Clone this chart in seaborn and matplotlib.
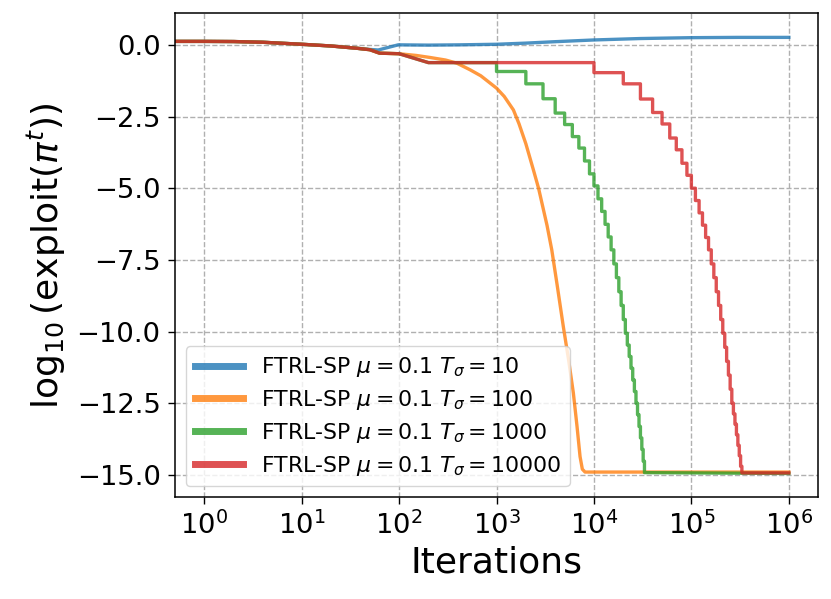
import numpy as np
import pandas as pd
import matplotlib
matplotlib.use("Agg")
import matplotlib.pyplot as plt
import seaborn as sns

# shared start of every run (iterations, log10 exploitability)
common_x = [0, 1, 2, 4, 10, 20, 37, 50, 63, 100]
common_y = [0.12, 0.12, 0.115, 0.09, 0.02, -0.04, -0.12, -0.17, -0.29, -0.31]

# T_sigma = 10
blue_x = [0, 1, 2, 4, 10, 20, 37, 50, 61, 98, 200, 420, 1000, 2000, 4000,
          10000, 30000, 100000, 300000, 1000000]
blue_y = [0.12, 0.12, 0.115, 0.09, 0.02, -0.04, -0.12, -0.16, -0.18, 0.0, -0.01,
          0.0, 0.02, 0.06, 0.11, 0.17, 0.22, 0.25, 0.26, 0.26]

# T_sigma = 100
orange_x = [150, 207, 300, 392, 535, 690, 1000, 1200, 1490, 1700, 2000, 2390,
            2700, 3300, 3690, 4200, 4850, 5500, 6150, 6700, 7200, 7600, 8100,
            10000, 100000, 1000000]
orange_y = [-0.37, -0.44, -0.53, -0.64, -0.87, -1.08, -1.51, -1.8, -2.27, -2.75,
            -3.45, -4.36, -5.0, -6.3, -7.15, -8.4, -9.83, -11.0, -12.15, -13.3,
            -14.36, -14.8, -14.9, -14.9, -14.9, -14.9]

# T_sigma = 1000 / 10000: value after the drop at 200, then plateau per period
plateau_200 = -0.62
green_levels = [-0.93, -1.36, -1.88, -2.38, -2.78, -3.2, -3.6, -4.05, -4.5, -4.92,
                -5.37, -5.81, -6.26, -6.7, -7.15, -7.64, -8.12, -8.61, -9.09, -9.58,
                -10.06, -10.47, -10.87, -11.28, -11.69, -12.09, -12.5, -12.9, -13.31,
                -13.71, -14.11, -14.52, -14.92]
green_final = -14.95
red_levels = [-0.97, -1.36, -1.89, -2.36, -2.76, -3.25, -3.66, -4.13, -4.55, -5.0,
              -5.43, -5.86, -6.29, -6.72, -7.15, -7.64, -8.12, -8.61, -9.09, -9.58,
              -10.06, -10.55, -11.04, -11.52, -12.01, -12.5, -12.87, -13.23, -13.6,
              -13.97, -14.33, -14.7, -14.93]
red_final = -14.93

periods = [10, 100, 1000, 10000]
colors = ["tab:blue", "tab:orange", "tab:green", "tab:red"]
labels = [r"FTRL-SP $\mu=0.1$ $T_\sigma=%d$" % p for p in periods]
x_end = 1000000


def stair_series(period, levels, final):
    xs = common_x + [200]
    ys = common_y + [plateau_200]
    prev = plateau_200
    for k, lev in enumerate(levels, start=1):
        xs += [k * period, k * period]
        ys += [prev, lev]
        prev = lev
    xs.append(x_end)
    ys.append(final)
    return pd.DataFrame({"x": xs, "y": ys})


frames = [
    pd.DataFrame({"x": blue_x, "y": blue_y}),
    pd.DataFrame({"x": common_x + orange_x, "y": common_y + orange_y}),
    stair_series(1000, green_levels, green_final),
    stair_series(10000, red_levels, red_final),
]

fig, ax = plt.subplots(figsize=(8.31, 5.99), dpi=100)
fig.subplots_adjust(left=0.2106, right=0.9844, top=0.9778, bottom=0.1698)

for df, c, lab in zip(frames, colors, labels):
    sns.lineplot(data=df, x="x", y="y", ax=ax, color=c, lw=2.4, alpha=0.8,
                 label=lab, estimator=None, sort=False)

ax.set_xscale("log")
ax.set_xlim(10 ** -0.3, 10 ** 6.3)
ax.set_ylim(-15.78, 1.1)
ax.set_xticks([10.0 ** e for e in range(7)])
ax.minorticks_off()
ax.set_yticks([0.0, -2.5, -5.0, -7.5, -10.0, -12.5, -15.0])

ax.grid(True, linestyle="--", color="#b0b0b0", lw=1.0)
ax.tick_params(labelsize=19.7, length=4.8, width=1.0, pad=5.5)
for s in ax.spines.values():
    s.set_linewidth(1.1)

ax.set_xlabel("Iterations", fontsize=26)
ax.set_ylabel(r"$\log_{10}$(exploit($\pi^t$))", fontsize=26, labelpad=6)

leg = ax.legend(loc="lower left", fontsize=15.8, handlelength=2.2,
                labelspacing=0.4)
for line in leg.get_lines():
    line.set_linewidth(5)

fig.savefig("out.png", dpi=100)
